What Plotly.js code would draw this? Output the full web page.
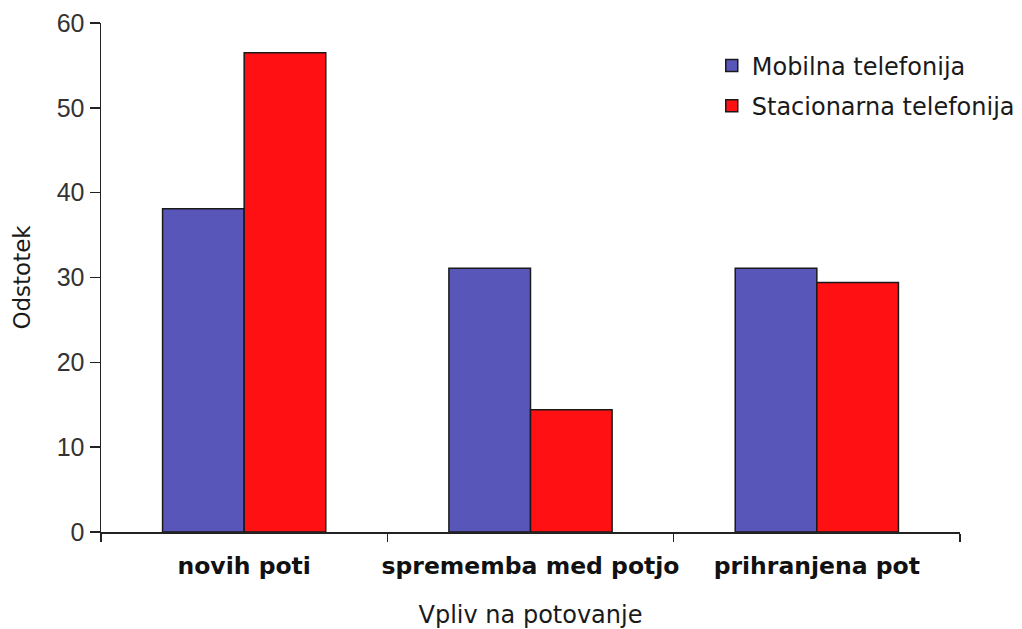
<!DOCTYPE html>
<html>
<head>
<meta charset="utf-8">
<script src="https://cdn.plot.ly/plotly-3.0.1.min.js"></script>
<style>
html,body{margin:0;padding:0;background:#fff;}
#chart{width:1022px;height:629px;}
</style>
</head>
<body>
<div id="chart"></div>
<script>
const categories = ["novih poti", "sprememba med potjo", "prihranjena pot"];
const seriesNames = ["Mobilna telefonija", "Stacionarna telefonija"];
const mobilna = [38.1, 31.1, 31.1];
const stacionarna = [56.5, 14.4, 29.4];
const yTicks = [0, 10, 20, 30, 40, 50, 60];

const traces = [
  {
    type: "bar", name: seriesNames[0], x: categories, y: mobilna,
    legendgroup: "a",
    marker: {color: "#5856b9", line: {color: "#1a1a1a", width: 1.5}},
    hoverinfo: "x+y"
  },
  {
    type: "bar", name: seriesNames[1], x: categories, y: stacionarna,
    legendgroup: "b",
    marker: {color: "#fe1013", line: {color: "#1a1a1a", width: 1.5}},
    hoverinfo: "x+y"
  }
];

const layout = {
  width: 1022, height: 629,
  margin: {l: 101, r: 62, t: 23, b: 97, autoexpand: false},
  paper_bgcolor: "#ffffff", plot_bgcolor: "#ffffff",
  barmode: "group", bargap: 0.43, bargroupgap: 0,
  showlegend: true,
  legend: {
    x: 0.711, xref: "paper", y: 0.96, yanchor: "top",
    font: {family: "DejaVu Sans", size: 24, color: "#1a1a1a"},
    tracegroupgap: 6, bgcolor: "rgba(0,0,0,0)"
  },
  xaxis: {
    type: "category", range: [-0.5, 2.5],
    showline: true, linecolor: "#222", linewidth: 1.5,
    ticks: "outside", tickson: "boundaries", ticklen: 8, tickcolor: "#222", tickwidth: 1.5,
    tickangle: 0,
    tickfont: {family: "DejaVu Sans", size: 23.5, color: "#111", weight: "bold"},
    ticklabelstandoff: 12,
    showgrid: false, zeroline: false, automargin: false,
    title: {text: "Vpliv na potovanje", font: {family: "DejaVu Sans", size: 24, color: "#1a1a1a"}, standoff: 30}
  },
  yaxis: {
    range: [0, 60], tickvals: yTicks,
    showline: true, linecolor: "#222", linewidth: 1.5,
    ticks: "outside", ticklen: 10, tickcolor: "#222", tickwidth: 1.5,
    tickfont: {family: "Liberation Sans", size: 25, color: "#333"},
    ticklabelstandoff: 0,
    showgrid: false, zeroline: false, automargin: false,
    title: {text: "Odstotek", font: {family: "DejaVu Sans", size: 23, color: "#1a1a1a"}, standoff: 19}
  }
};

Plotly.newPlot("chart", traces, layout, {displayModeBar: false, staticPlot: true});
</script>
</body>
</html>
